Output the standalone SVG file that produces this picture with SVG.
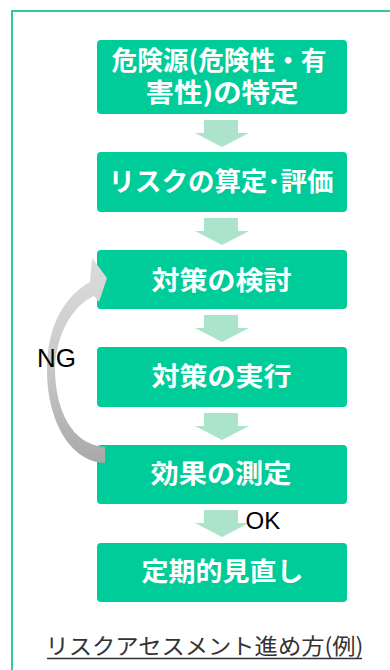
<svg xmlns="http://www.w3.org/2000/svg" width="390" height="670" viewBox="0 0 390 670">
  <defs>
    <style>
      .box { fill: #00CC99; }
      .lbl { fill: #FFFFFF; font-family: "Noto Sans CJK JP", "Noto Sans", sans-serif; font-weight: bold; font-size: 26px; text-anchor: middle; }
      .flow { fill: #ACE3CB; }
      .tag { fill: #000000; font-family: "Liberation Sans", Arial, sans-serif; }
      .cap { fill: #333333; font-family: "Noto Sans CJK JP", "Noto Sans", sans-serif; font-size: 22px; text-anchor: middle; }
    </style>
    <linearGradient id="loopGrad" gradientUnits="userSpaceOnUse" x1="0" y1="258" x2="0" y2="463">
      <stop offset="0" stop-color="#DCDCDC"/>
      <stop offset="0.5" stop-color="#CACACA"/>
      <stop offset="1" stop-color="#A8A8A8"/>
    </linearGradient>
  </defs>
  <rect x="0" y="0" width="390" height="670" fill="#FFFFFF"/>
  <rect id="frame" x="12" y="11" width="420" height="700" fill="none" stroke="#2ECC9A" stroke-width="2"/>

  <g id="nodes">
    <g id="n1">
      <rect class="box" x="97" y="40" width="250" height="74" rx="4"/>
      <text class="lbl" font-size="23"><tspan x="219" y="69.5" textLength="215" lengthAdjust="spacingAndGlyphs">危険源(危険性・有</tspan><tspan x="222" y="101.5" textLength="153" lengthAdjust="spacingAndGlyphs">害性)の特定</tspan></text>
    </g>
    <g id="n2">
      <rect class="box" x="97" y="152" width="250" height="60" rx="4"/>
      <text class="lbl" x="221" y="191" textLength="225" lengthAdjust="spacingAndGlyphs">リスクの算定･評価</text>
    </g>
    <g id="n3">
      <rect class="box" x="97" y="250" width="250" height="59" rx="4"/>
      <text class="lbl" x="221.5" y="290" textLength="140" lengthAdjust="spacingAndGlyphs">対策の検討</text>
    </g>
    <g id="n4">
      <rect class="box" x="97" y="347" width="250" height="60" rx="4"/>
      <text class="lbl" x="221.5" y="386" textLength="140" lengthAdjust="spacingAndGlyphs">対策の実行</text>
    </g>
    <g id="n5">
      <rect class="box" x="97" y="445" width="250" height="59" rx="4"/>
      <text class="lbl" x="221" y="483" textLength="141" lengthAdjust="spacingAndGlyphs">効果の測定</text>
    </g>
    <g id="n6">
      <rect class="box" x="97" y="543" width="250" height="59" rx="4"/>
      <text class="lbl" x="222.5" y="581" textLength="162" lengthAdjust="spacingAndGlyphs">定期的見直し</text>
    </g>
  </g>

  <g id="connectors">
    <polygon class="flow" points="204,120 238,120 238,133 249,133 222,147 195,133 204,133"/>
    <polygon class="flow" points="204,218 238,218 238,231 249,231 222,245 195,231 204,231"/>
    <polygon class="flow" points="204,315 238,315 238,328 249,328 222,342 195,328 204,328"/>
    <polygon class="flow" points="204,413 238,413 238,426 249,426 222,440 195,426 204,426"/>
    <polygon class="flow" points="204,510 238,510 238,523 249,523 222,537 195,523 204,523"/>
    <text class="tag" x="245.5" y="529" font-size="24">OK</text>
    <path id="loop" fill="url(#loopGrad)" d="M105 463 C70 462 47 420 47 370 C47 325 65 296 90 282 L92 258 L107 278 L99 302 L94 296 C72 306 56 335 55 368 C55 410 72 445 105 447 Z"/>
    <text class="tag" x="37" y="367" font-size="26">NG</text>
  </g>

  <g id="caption">
    <text class="cap" x="204.5" y="654" textLength="318" lengthAdjust="spacingAndGlyphs">リスクアセスメント進め方(例)</text>
    <line x1="47" y1="658.5" x2="362" y2="658.5" stroke="#333333" stroke-width="1.5"/>
  </g>
</svg>
